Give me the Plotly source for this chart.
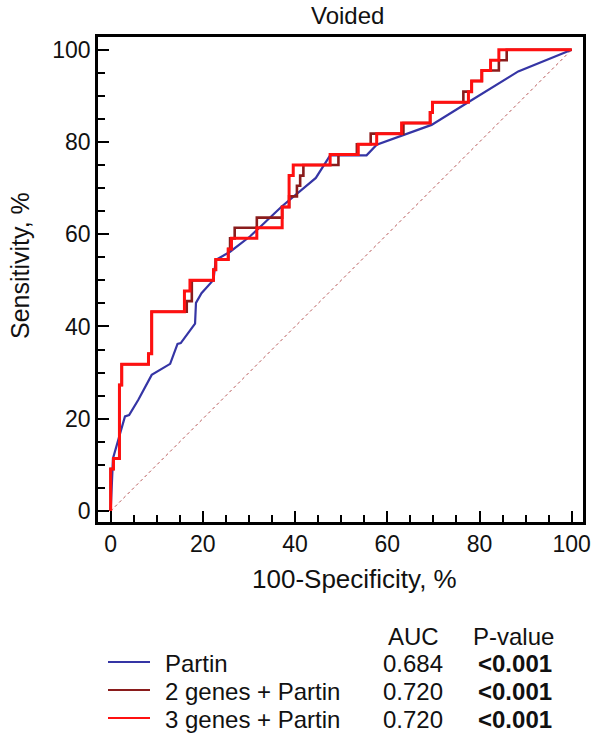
import plotly.graph_objects as go

# ROC curves, values in percent (x = 100 - specificity, y = sensitivity)
partin_fpr = [0, 0.5, 3.1, 4.0, 6.0, 8.9, 12.9, 14.5, 15.2, 18.3, 18.5, 19.7, 22.3, 22.8,
              25.9, 30.2, 37.1, 44.5, 47.6, 55.5, 57.7, 62.8, 69.6, 77.2, 88.4, 100]
partin_tpr = [0, 11.4, 20.5, 20.8, 24.1, 29.5, 31.9, 36.2, 36.4, 40.6, 45.1, 47.2, 50.1, 54.4,
              56.2, 59.5, 66.0, 72.2, 77.1, 77.1, 79.4, 81.2, 83.7, 88.4, 95.3, 100]

# stepwise curves: each point is the corner reached after a vertical rise
genes2_fpr = [0, 0.6, 1.9, 2.4, 8.2, 8.9, 16.5, 17.6, 22.3, 22.8, 25.5, 25.9, 26.9, 31.7,
              37.2, 38.7, 40.4, 41.1, 41.8, 49.4, 53.4, 56.4, 63.5, 69.3, 69.8, 76.5, 78.3,
              80.5, 84.2, 85.9, 100]
genes2_tpr = [0, 9.1, 11.4, 27.3, 31.8, 34.1, 43.2, 45.5, 50.0, 52.3, 54.5, 56.8, 59.1, 61.4,
              63.6, 65.9, 68.2, 70.5, 72.7, 75.0, 77.3, 79.5, 81.8, 84.1, 86.4, 88.6, 90.9,
              93.2, 95.5, 97.7, 100]

genes3_fpr = [0, 0.6, 1.9, 2.4, 8.2, 8.9, 16.0, 17.2, 22.3, 22.8, 25.5, 26.2, 31.7, 37.2,
              38.7, 39.6, 47.6, 53.7, 57.7, 63.1, 69.3, 69.8, 77.6, 78.3, 80.5, 82.4, 84.2, 100]
genes3_tpr = [0, 9.1, 11.4, 27.3, 31.8, 34.1, 43.2, 47.7, 50.0, 52.3, 54.5, 56.8, 59.1, 61.4,
              65.9, 72.7, 75.0, 77.3, 79.5, 81.8, 84.1, 86.4, 88.6, 90.9, 93.2, 95.5, 97.7, 100]

series_names = ["Partin", "2 genes + Partin", "3 genes + Partin"]
auc_values = ["0.684", "0.720", "0.720"]
p_values = ["<0.001", "<0.001", "<0.001"]
colors = ["#3535a5", "#8a1c1c", "#ff1010"]

ticks_major = [0, 20, 40, 60, 80, 100]

FONT = "Liberation Sans, Arial, sans-serif"

W, H = 593, 736
L, R, T, B = 98, 583, 37, 522  # plot box in pixels


def fx(px):
    return (px - L) / (R - L)


def fy(py):
    return (B - py) / (B - T)


fig = go.Figure()

fig.add_trace(go.Scatter(x=[0, 100], y=[0, 100], mode="lines",
                         line=dict(color="#b85858", width=1, dash="dot"),
                         hoverinfo="skip", showlegend=False))
fig.add_trace(go.Scatter(x=partin_fpr, y=partin_tpr, mode="lines", name=series_names[0],
                         line=dict(color=colors[0], width=2.2), showlegend=False))
fig.add_trace(go.Scatter(x=genes2_fpr, y=genes2_tpr, mode="lines", name=series_names[1],
                         line=dict(color=colors[1], width=2.6, shape="vh"), showlegend=False))
fig.add_trace(go.Scatter(x=genes3_fpr, y=genes3_tpr, mode="lines", name=series_names[2],
                         line=dict(color=colors[2], width=3, shape="vh"), showlegend=False))

axis_common = dict(
    showgrid=False, zeroline=False,
    showline=True, linecolor="black", linewidth=2.5, mirror=True,
    ticks="inside", ticklen=11, tickwidth=2, tickcolor="black",
    tickvals=ticks_major,
    tickfont=dict(family=FONT, size=23, color="#111"),
    minor=dict(dtick=5, tick0=0, ticks="inside", ticklen=7, tickwidth=2, tickcolor="black"),
)

fig.update_xaxes(range=[-2.75, 102.45], **axis_common)
fig.update_yaxes(range=[-2.39, 102.75], **axis_common)

annotations = [
    dict(text="Voided", x=fx(347), y=fy(16), size=24),
    dict(text="100-Specificity, %", x=fx(354), y=fy(579), size=26),
    dict(text="AUC", x=fx(413), y=fy(636), size=24),
    dict(text="P-value", x=fx(513), y=fy(636), size=24),
]
anns = []
for a in annotations:
    anns.append(dict(text=a["text"], x=a["x"], y=a["y"], xref="paper", yref="paper",
                     xanchor="center", yanchor="middle", showarrow=False,
                     font=dict(family=FONT, size=a["size"], color="#111")))
anns.append(dict(text="Sensitivity, %", x=fx(20), y=fy(266), xref="paper", yref="paper",
                 xanchor="center", yanchor="middle", showarrow=False, textangle=-90,
                 font=dict(family=FONT, size=25, color="#111")))

shapes = []
row_y = [662, 690, 718]
for name, auc, pv, col, ry in zip(series_names, auc_values, p_values, colors, row_y):
    shapes.append(dict(type="line", xref="paper", yref="paper",
                       x0=fx(108), x1=fx(150), y0=fy(ry), y1=fy(ry),
                       line=dict(color=col, width=2)))
    anns.append(dict(text=name, x=fx(163), y=fy(ry + 1), xref="paper", yref="paper",
                     xanchor="left", yanchor="middle", showarrow=False,
                     font=dict(family=FONT, size=24, color="#111")))
    anns.append(dict(text=auc, x=fx(412.5), y=fy(ry + 1), xref="paper", yref="paper",
                     xanchor="center", yanchor="middle", showarrow=False,
                     font=dict(family=FONT, size=24, color="#111")))
    anns.append(dict(text="<b>" + pv.replace("<", "&lt;") + "</b>", x=fx(515), y=fy(ry + 1),
                     xref="paper", yref="paper",
                     xanchor="center", yanchor="middle", showarrow=False,
                     font=dict(family=FONT, size=24, color="#111")))

fig.update_layout(
    width=W, height=H,
    margin=dict(l=L, r=W - R, t=T, b=H - B, autoexpand=False),
    paper_bgcolor="white", plot_bgcolor="white",
    annotations=anns, shapes=shapes,
    showlegend=False,
)

fig.write_html("out.html", config={"displayModeBar": False})
